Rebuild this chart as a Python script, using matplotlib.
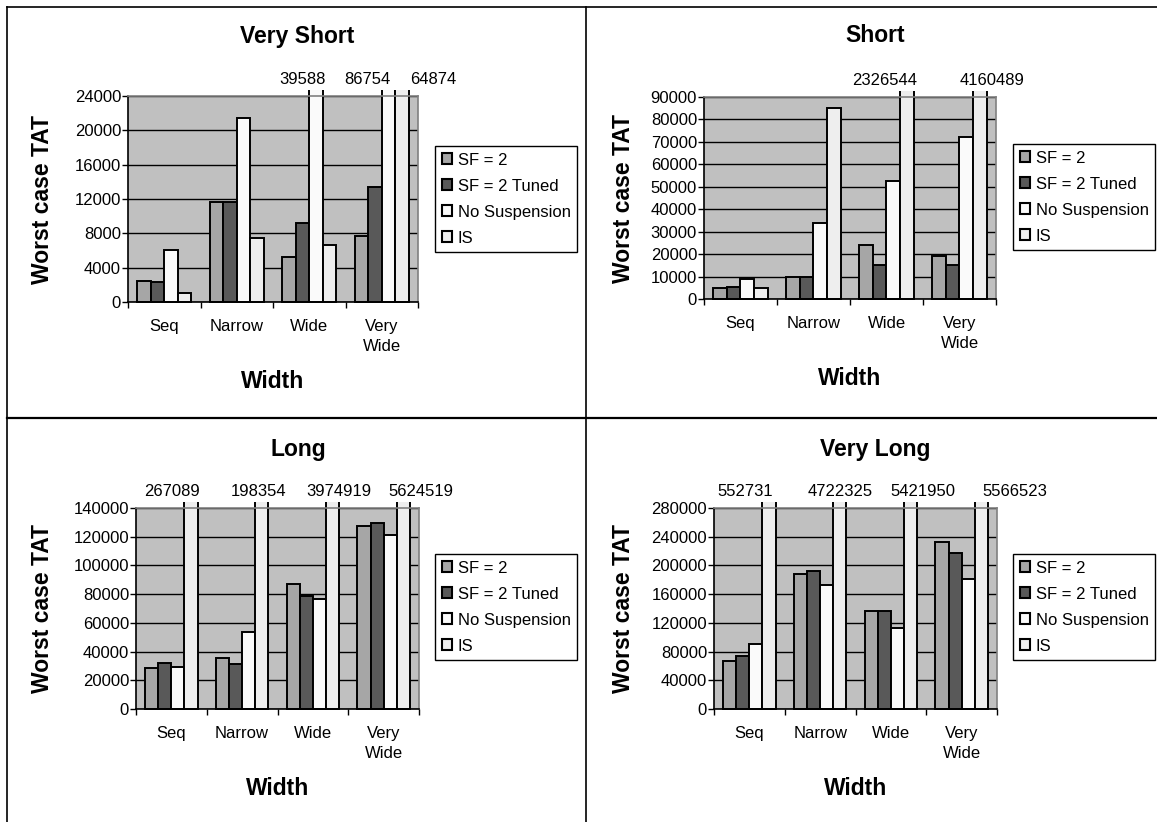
import matplotlib
matplotlib.use("Agg")
import matplotlib.pyplot as plt
from matplotlib.patches import Rectangle
from matplotlib.lines import Line2D

plt.rcParams['font.family'] = ['Liberation Sans', 'DejaVu Sans']

# categories and series
categories = ['Seq', 'Narrow', 'Wide', 'Very\nWide']
series = ['SF = 2', 'SF = 2 Tuned', 'No Suspension', 'IS']
colors = ['#a6a6a6', '#595959', '#fafafa', '#eeeeee']

# worst case TAT, one list per series, in category order
very_short_sf2 = [2500, 11600, 5200, 7700]
very_short_tuned = [2300, 11600, 9200, 13400]
very_short_nosusp = [6000, 21400, 39588, 86754]
very_short_is = [1000, 7400, 6650, 64874]

short_sf2 = [4800, 9600, 24000, 19100]
short_tuned = [5500, 9600, 15000, 15000]
short_nosusp = [8800, 33900, 52400, 72200]
short_is = [4800, 85300, 2326544, 4160489]

long_sf2 = [28900, 35200, 87300, 127700]
long_tuned = [31700, 31000, 78800, 129800]
long_nosusp = [29400, 53700, 76500, 121000]
long_is = [267089, 198354, 3974919, 5624519]

very_long_sf2 = [67200, 187700, 136300, 232700]
very_long_tuned = [73200, 191900, 136300, 217400]
very_long_nosusp = [89900, 172400, 113100, 181700]
very_long_is = [552731, 4722325, 5421950, 5566523]

W, H = 1157, 822
fig = plt.figure(figsize=(W / 100, H / 100), dpi=100, facecolor='white')


def fx(x):
    return x / W


def fy(y):
    return 1 - y / H


# panel layout (pixels): plot box, title x, title y, shifts of the value labels
panels = [
    dict(title='Very Short', data=[very_short_sf2, very_short_tuned, very_short_nosusp, very_short_is],
         ymax=24000, step=4000, box=(128, 96, 418, 302), tx=297, ty=36, ylx=43,
         shifts=[-13, -21, 31], leg=(435, 146)),
    dict(title='Short', data=[short_sf2, short_tuned, short_nosusp, short_is],
         ymax=90000, step=10000, box=(704, 97, 996, 299), tx=875, ty=36, ylx=623,
         shifts=[-22, 12], leg=(1013, 144)),
    dict(title='Long', data=[long_sf2, long_tuned, long_nosusp, long_is],
         ymax=140000, step=20000, box=(136, 508, 419, 709), tx=298, ty=449, ylx=43,
         shifts=[-19, -3, 6, 18], leg=(435, 554)),
    dict(title='Very Long', data=[very_long_sf2, very_long_tuned, very_long_nosusp, very_long_is],
         ymax=280000, step=40000, box=(714, 508, 997, 709), tx=875, ty=449, ylx=623,
         shifts=[-24, 0, 12, 34], leg=(1013, 554)),
]

bw = 0.185
for p in panels:
    x0, y0, x1, y1 = p['box']
    ax = fig.add_axes([fx(x0), fy(y1), fx(x1) - fx(x0), fy(y0) - fy(y1)])
    ax.set_facecolor('#c0c0c0')
    ax.set_xlim(0, 4)
    ax.set_ylim(0, p['ymax'])
    ax.set_axisbelow(True)
    ax.yaxis.grid(True, color='black', linewidth=1)

    # bars may run a bit past the top of the plot area, then get cut
    clip = Rectangle((0, -0.05), 1, 1.08, transform=ax.transAxes)
    for j, vals in enumerate(p['data']):
        xs = [i + 0.5 + (j - 1.5) * bw for i in range(4)]
        bars = ax.bar(xs, vals, width=bw, color=colors[j], edgecolor='black',
                      linewidth=1.4, label=series[j])
        for b in bars:
            b.set_clip_path(clip)

    # value labels for the cut bars
    k = 0
    for i in range(4):
        for j in range(4):
            v = p['data'][j][i]
            if v > p['ymax']:
                xc = i + 0.5 + (j - 1.5) * bw
                ax.annotate(str(v), xy=(xc, 1), xycoords=('data', 'axes fraction'),
                            xytext=(p['shifts'][k] * 0.72, 12), textcoords='offset points',
                            ha='center', va='center', fontsize=12, annotation_clip=False)
                k += 1

    ax.set_yticks(range(0, p['ymax'] + 1, p['step']))
    ax.tick_params(axis='y', direction='out', length=4, width=1, pad=1, labelsize=12)
    ax.set_xticks([0, 1, 2, 3, 4])
    ax.set_xticklabels([])
    ax.set_xticks([0.5, 1.5, 2.5, 3.5], minor=True)
    ax.set_xticklabels(categories, minor=True, fontsize=12, linespacing=1.45)
    ax.tick_params(axis='x', which='major', direction='out', length=4, width=1)
    ax.tick_params(axis='x', which='minor', length=0, pad=12)
    for s in ['left', 'bottom']:
        ax.spines[s].set_color('black')
        ax.spines[s].set_linewidth(1.2)
    for s in ['top', 'right']:
        ax.spines[s].set_color('#808080')
        ax.spines[s].set_linewidth(1.2)

    fig.text(fx(p['tx']), fy(p['ty']), p['title'], ha='center', va='center',
             fontsize=16.5, fontweight='bold')
    fig.text(fx(p['ylx']), fy((y0 + y1) / 2), 'Worst case TAT', rotation=90,
             ha='center', va='center', fontsize=16.5, fontweight='bold')
    fig.text(fx((x0 + x1) / 2), fy(y1 + 79), 'Width', ha='center', va='center',
             fontsize=16.5, fontweight='bold')

    leg = ax.legend(loc='upper left', bbox_to_anchor=(fx(p['leg'][0]), fy(p['leg'][1])),
                    bbox_transform=fig.transFigure, borderaxespad=0, fontsize=12,
                    handlelength=0.6, handleheight=0.6, handletextpad=0.35,
                    labelspacing=0.66, borderpad=0.4, fancybox=False, framealpha=1,
                    edgecolor='black')
    leg.get_frame().set_linewidth(1)
    for h in leg.legend_handles:
        h.set_linewidth(1.5)

# panel frames
frame = dict(color='black', linewidth=1.2, transform=fig.transFigure)
fig.add_artist(Line2D([fx(7), fx(7)], [fy(7), 0], **frame))
fig.add_artist(Line2D([fx(7), 1], [fy(7.5), fy(7.5)], **frame))
fig.add_artist(Line2D([fx(586), fx(586)], [fy(7), 0], **frame))
fig.add_artist(Line2D([fx(7), 1], [fy(418), fy(418)], color='black', linewidth=1.6,
                      transform=fig.transFigure))

fig.savefig('out.png', dpi=100)
